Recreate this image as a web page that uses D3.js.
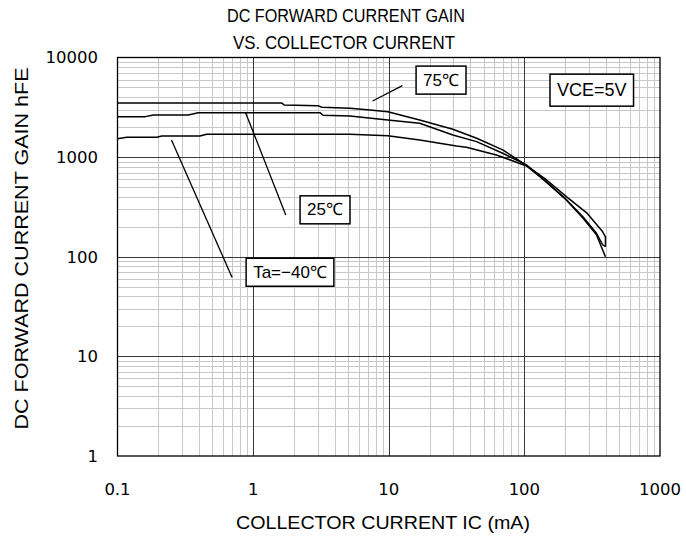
<!DOCTYPE html>
<html>
<head>
<meta charset="utf-8">
<script src="https://cdn.jsdelivr.net/npm/d3@7"></script>
<style>
  body { margin: 0; background: #fff; }
  svg { font-family: "Liberation Sans", Arial, sans-serif; }
</style>
</head>
<body>
<div id="chart"></div>
<script>
/************ hFE vs IC, log-log *****************/

// collector current (mA) / hFE for each temperature
const ic75 = [0.1, 1.62, 1.69, 3.0, 3.21, 5.17, 7.26, 9.84, 16.9, 29.7, 44.5, 69.2, 97.2, 146, 205, 288, 378, 396, 396];
const hfe75 = [3500, 3500, 3340, 3285, 3166, 3094, 2974, 2860, 2361, 1905, 1547, 1181, 875, 590, 399, 276, 178, 158, 126];

const ic25 = [0.1, 0.16, 0.184, 0.332, 0.394, 3.11, 3.28, 5.17, 9.84, 16.9, 29.7, 44.4, 69.2, 103.6, 205, 269, 340, 378, 396];
const hfe25 = [2549, 2549, 2651, 2651, 2795, 2795, 2633, 2590, 2361, 2188, 1670, 1430, 1094, 835, 372, 253, 172, 132, 126];

const icM40 = [0.1, 0.117, 0.195, 0.212, 0.405, 0.454, 5.17, 9.84, 16.9, 31.6, 37.4, 62.2, 103.6, 145.5, 204, 271, 340, 396];
const hfeM40 = [1533, 1584, 1584, 1632, 1632, 1697, 1697, 1643, 1487, 1295, 1257, 1052, 816, 568, 372, 244, 166, 100];

const xTicks = [0.1, 1, 10, 100, 1000];
const yTicks = [1, 10, 100, 1000, 10000];

// label boxes and leader lines, in data units [IC, hFE]
const labelText = ["75℃", "VCE=5V", "25℃", "Ta=−40℃"];
const labelPos = [[24.3, 6015], [314, 4753], [3.39, 300], [1.87, 70.9]];
const leaderFrom = [[12.6, 5213], [0.88, 2795], [0.25, 1487]];
const leaderTo = [[7.6, 3662], [1.74, 263], [0.70, 61.9]];

(function() {
  const W = 686, H = 539;
  const pl = 117.5, pr = 660, pt = 57.5, pb = 456;

  const svg = d3.select("#chart").append("svg")
      .attr("width", W)
      .attr("height", H);

  const x = d3.scaleLog().domain([0.1, 1000]).range([pl, pr]);
  const y = d3.scaleLog().domain([1, 10000]).range([pb, pt]);

  // minor grid 2..9 in each decade
  let minorX = [], minorY = [];
  xTicks.slice(0, -1).forEach(d => { for (let k = 2; k <= 9; k++) minorX.push(d * k); });
  yTicks.slice(0, -1).forEach(d => { for (let k = 2; k <= 9; k++) minorY.push(d * k); });

  svg.selectAll("line.minorx").data(minorX).enter().append("line")
      .attr("x1", d => Math.round(x(d)) + 0.5).attr("x2", d => Math.round(x(d)) + 0.5)
      .attr("y1", pt).attr("y2", pb)
      .attr("stroke", "#c8c8c8").attr("stroke-width", 1);

  svg.selectAll("line.minory").data(minorY).enter().append("line")
      .attr("y1", d => Math.round(y(d)) + 0.5).attr("y2", d => Math.round(y(d)) + 0.5)
      .attr("x1", pl).attr("x2", pr)
      .attr("stroke", "#c8c8c8").attr("stroke-width", 1);

  svg.selectAll("line.majorx").data(xTicks.slice(1, -1)).enter().append("line")
      .attr("x1", d => Math.round(x(d)) + 0.5).attr("x2", d => Math.round(x(d)) + 0.5)
      .attr("y1", pt).attr("y2", pb)
      .attr("stroke", "#3a3a3a").attr("stroke-width", 1);

  svg.selectAll("line.majory").data(yTicks.slice(1, -1)).enter().append("line")
      .attr("y1", d => Math.round(y(d)) + 0.5).attr("y2", d => Math.round(y(d)) + 0.5)
      .attr("x1", pl).attr("x2", pr)
      .attr("stroke", "#3a3a3a").attr("stroke-width", 1);

  // frame
  svg.append("rect")
      .attr("x", pl).attr("y", pt)
      .attr("width", pr - pl).attr("height", pb - pt)
      .attr("fill", "none").attr("stroke", "#000").attr("stroke-width", 1.3);

  // curves
  const line = d3.line().x(d => x(d[0])).y(d => y(d[1]));
  const series = [
    d3.zip(ic75, hfe75),
    d3.zip(ic25, hfe25),
    d3.zip(icM40, hfeM40)
  ];
  svg.selectAll("path.curve").data(series).enter().append("path")
      .attr("d", line)
      .attr("fill", "none")
      .attr("stroke", "#000")
      .attr("stroke-width", 1.5)
      .attr("stroke-linejoin", "round");

  // leaders
  svg.selectAll("line.leader").data(d3.zip(leaderFrom, leaderTo)).enter().append("line")
      .attr("x1", d => x(d[0][0])).attr("y1", d => y(d[0][1]))
      .attr("x2", d => x(d[1][0])).attr("y2", d => y(d[1][1]))
      .attr("stroke", "#000").attr("stroke-width", 1.3);

  // label boxes
  labelText.forEach((t, i) => {
    const g = svg.append("g");
    const txt = g.append("text")
        .attr("x", x(labelPos[i][0]))
        .attr("y", y(labelPos[i][1]))
        .attr("dy", "0.36em")
        .attr("text-anchor", "middle")
        .attr("font-size", i == 1 ? 18 : 17)
        .text(t);
    const bb = txt.node().getBBox();
    const padX = 7, padY = i == 1 ? 6 : 4.5;
    g.insert("rect", "text")
        .attr("x", bb.x - padX).attr("y", bb.y - padY)
        .attr("width", bb.width + 2 * padX).attr("height", bb.height + 2 * padY)
        .attr("fill", "#fff").attr("stroke", "#000").attr("stroke-width", 1.5);
  });

  // tick labels
  svg.selectAll("text.xt").data(xTicks).enter().append("text")
      .attr("x", d => x(d)).attr("y", 495)
      .attr("text-anchor", "middle")
      .attr("font-family", "DejaVu Sans")
      .attr("font-size", 16.5)
      .text(d => d);

  svg.selectAll("text.yt").data(yTicks).enter().append("text")
      .attr("x", 98).attr("y", d => y(d)).attr("dy", "0.36em")
      .attr("text-anchor", "end")
      .attr("font-family", "DejaVu Sans")
      .attr("font-size", 16.5)
      .text(d => d);

  // titles
  svg.append("text")
      .attr("x", 346).attr("y", 22)
      .attr("text-anchor", "middle").attr("font-size", 18)
      .attr("textLength", 238).attr("lengthAdjust", "spacingAndGlyphs")
      .text("DC FORWARD CURRENT GAIN");
  svg.append("text")
      .attr("x", 344).attr("y", 49)
      .attr("text-anchor", "middle").attr("font-size", 18)
      .attr("textLength", 222).attr("lengthAdjust", "spacingAndGlyphs")
      .text("VS. COLLECTOR CURRENT");

  svg.append("text")
      .attr("x", 383).attr("y", 529)
      .attr("text-anchor", "middle").attr("font-size", 18)
      .attr("textLength", 294).attr("lengthAdjust", "spacingAndGlyphs")
      .text("COLLECTOR CURRENT IC (mA)");

  svg.append("text")
      .attr("transform", "translate(28,248.5) rotate(-90)")
      .attr("text-anchor", "middle").attr("font-size", 18)
      .attr("textLength", 362).attr("lengthAdjust", "spacingAndGlyphs")
      .text("DC FORWARD CURRENT GAIN hFE");
})();
</script>
</body>
</html>
